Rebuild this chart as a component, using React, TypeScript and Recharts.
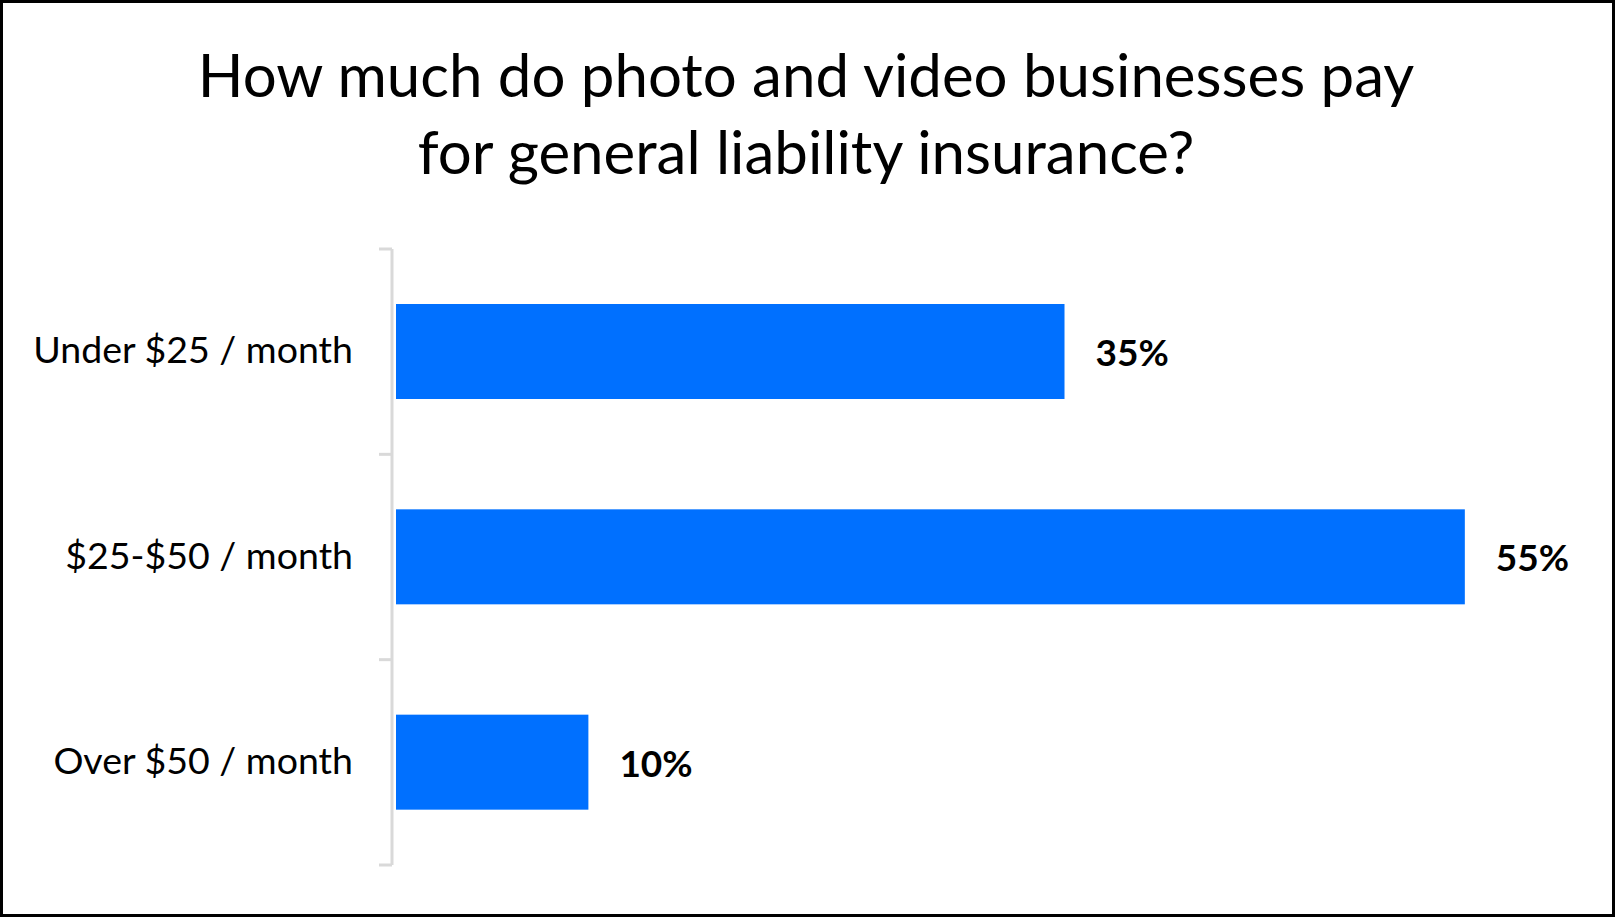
import { BarChart, Bar, XAxis, YAxis, LabelList } from 'recharts'

const categories = ['Under $25 / month', '$25-$50 / month', 'Over $50 / month']
const shares = [34.4, 55, 9.9]
const shareLabels = ['35%', '55%', '10%']
const titleLines = ['How much do photo and video businesses pay', 'for general liability insurance?']

const data = categories.map((name, i) => ({ name, share: shares[i], label: shareLabels[i] }))

const W = 1615
const H = 917
const PLOT_TOP = 249
const PLOT_BOTTOM = 865
const AXIS_X = 392
const BAR_GAP = 4 // bars sit a few px right of the axis line
const GRID = '#d9d9d9'
const BLUE = '#0070ff'
const FONT = 'Lato, "Open Sans", sans-serif'
const band = (PLOT_BOTTOM - PLOT_TOP) / categories.length

function CategoryTick(props: any) {
    const { y, payload, index } = props
    const top = y - band / 2
    return (
        <g>
            <line x1={AXIS_X - 13} x2={AXIS_X} y1={top} y2={top} stroke={GRID} strokeWidth={3} />
            {index === categories.length - 1 && (
                <line x1={AXIS_X - 13} x2={AXIS_X} y1={y + band / 2} y2={y + band / 2} stroke={GRID} strokeWidth={3} />
            )}
            <text x={353} y={y} dy={11.5} textAnchor="end" fontSize={37.5} fontFamily={FONT} fill="#000">
                {payload.value}
            </text>
        </g>
    )
}

function ShiftedBar(props: any) {
    const { x, y, width, height, fill } = props
    return <rect x={x + BAR_GAP} y={y} width={Math.max(width, 0)} height={height} fill={fill} />
}

function ValueLabel(props: any) {
    const { x, y, width, height, value } = props
    return (
        <text
            x={x + width + BAR_GAP + 31}
            y={y + height / 2}
            dy={14.5}
            fontSize={37}
            fontWeight="bold"
            fontFamily={FONT}
            fill="#000"
        >
            {value}
        </text>
    )
}

export default function App() {
    return (
        <div style={{ position: 'absolute', left: 0, top: 0, width: W, height: H, background: '#fff' }}>
            <svg width={W} height={200} style={{ position: 'absolute', left: 0, top: 0 }}>
                {titleLines.map((line, i) => (
                    <text key={line} x={806} y={97 + i * 77} textAnchor="middle" fontSize={60} fontFamily={FONT} fill="#000">
                        {line}
                    </text>
                ))}
            </svg>
            <div style={{ position: 'absolute', left: 0, top: 0 }}>
                <BarChart
                    width={W}
                    height={H}
                    data={data}
                    layout="vertical"
                    margin={{ top: PLOT_TOP, bottom: H - PLOT_BOTTOM, left: 0, right: 57 }}
                    barSize={95}
                >
                    <XAxis type="number" domain={[0, 60]} hide />
                    <YAxis
                        type="category"
                        dataKey="name"
                        width={AXIS_X}
                        axisLine={{ stroke: GRID, strokeWidth: 3 }}
                        tickLine={false}
                        tick={<CategoryTick />}
                    />
                    <Bar dataKey="share" fill={BLUE} shape={<ShiftedBar />} isAnimationActive={false}>
                        <LabelList dataKey="label" content={<ValueLabel />} />
                    </Bar>
                </BarChart>
            </div>
            <div
                style={{
                    position: 'absolute',
                    left: 0,
                    top: 0,
                    width: W,
                    height: H,
                    boxSizing: 'border-box',
                    border: '3px solid #000',
                    pointerEvents: 'none',
                }}
            />
        </div>
    )
}
